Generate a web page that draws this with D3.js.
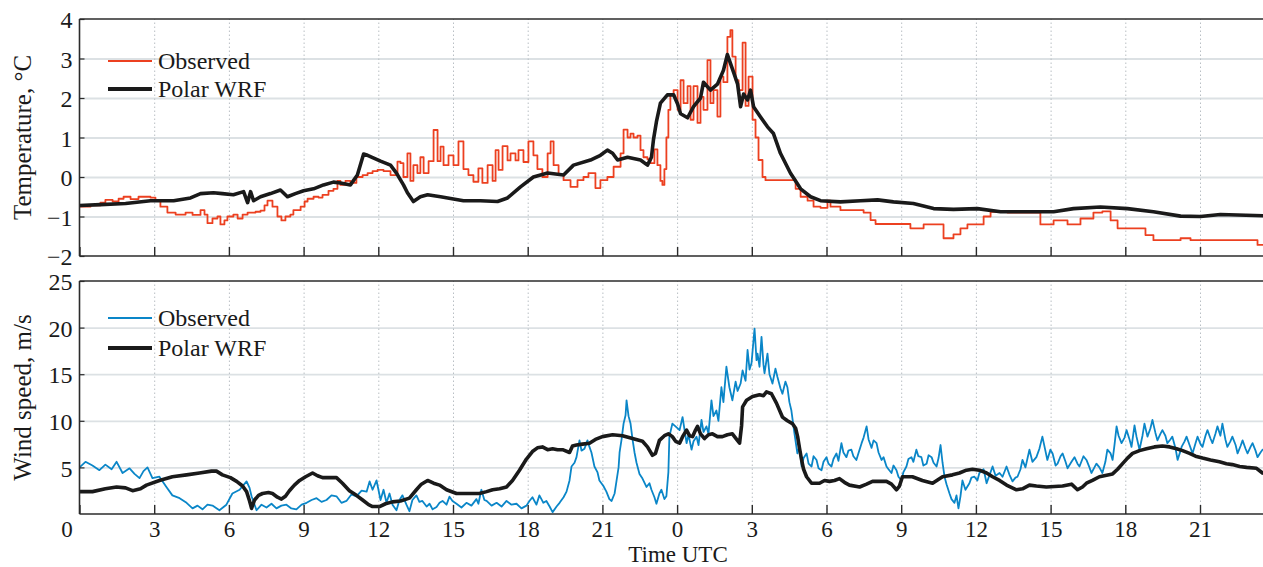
<!DOCTYPE html>
<html><head><meta charset="utf-8">
<script src="https://cdn.jsdelivr.net/npm/d3@7"></script>
<style>
body{margin:0;background:#fff}
svg text{font-family:"Liberation Serif","Times New Roman",Times,serif !important;}
</style>
</head><body><svg id="c" width="1263" height="567"></svg>
<script>
// ---------------- data ----------------
const xTickHours = d3.range(0, 48, 3);          // hours since start, labelled as UTC hour
const tempTicks = [-2, -1, 0, 1, 2, 3, 4];
const windTicks = [5, 10, 15, 20, 25];
const seriesNames = ["Observed", "Polar WRF"];

// [hour, °C]
const tempObserved = [
[0,-0.75],[0.44,-0.72],[0.84,-0.65],[1.04,-0.58],[1.33,-0.62],[1.57,-0.55],[1.77,-0.5],[2.05,-0.56],[2.37,-0.5],[2.85,-0.52],
[3.05,-0.6],[3.25,-0.75],[3.53,-0.9],[3.86,-0.95],[4.26,-0.9],[4.54,-0.96],[4.86,-0.84],[5.02,-0.95],[5.14,-1.17],[5.34,-1.05],
[5.54,-1.0],[5.66,-1.2],[5.82,-1.1],[5.94,-1.0],[6.18,-0.95],[6.35,-1.05],[6.55,-0.95],[6.75,-0.9],[7.07,-0.88],[7.27,-0.85],
[7.43,-0.72],[7.55,-0.6],[7.75,-0.75],[7.95,-1.0],[8.11,-1.1],[8.27,-1.0],[8.47,-0.95],[8.59,-0.84],[8.88,-0.75],[9.04,-0.62],
[9.16,-0.55],[9.4,-0.5],[9.6,-0.52],[9.76,-0.45],[10.0,-0.35],[10.2,-0.3],[10.36,-0.1],[10.48,-0.2],[10.68,-0.1],[10.88,-0.15],
[11.12,0.0],[11.37,0.05],[11.57,0.1],[11.77,0.15],[11.97,0.18],[12.21,0.15],[12.49,0.05],[12.77,0.39],[12.89,0.35],[13.01,0.0],
[13.17,0.6],[13.29,-0.1],[13.41,0.3],[13.57,0.1],[13.69,0.5],[13.82,0.1],[14.02,0.4],[14.22,1.19],[14.38,0.4],[14.5,0.77],
[14.62,0.3],[14.82,0.55],[15.02,0.3],[15.22,0.9],[15.42,0.2],[15.62,0.05],[15.82,-0.12],[16.02,0.22],[16.18,-0.15],[16.39,0.3],
[16.59,-0.1],[16.71,0.68],[16.83,0.18],[16.99,0.78],[17.19,0.42],[17.31,0.6],[17.51,0.42],[17.63,0.68],[17.83,0.38],[18.03,0.9],
[18.23,0.55],[18.39,0.2],[18.59,0.0],[18.8,0.6],[18.92,0.9],[19.04,0.3],[19.24,0.05],[19.44,-0.08],[19.72,-0.25],[20.0,-0.08],
[20.24,0.0],[20.44,0.1],[20.72,-0.28],[20.92,-0.08],[21.2,0.0],[21.45,0.26],[21.73,0.6],[21.85,1.2],[22.01,1.0],[22.13,1.1],
[22.25,1.0],[22.41,1.05],[22.53,0.68],[22.65,0.5],[22.81,0.45],[22.93,0.35],[23.09,0.7],[23.21,0.3],[23.33,-0.1],[23.41,-0.2],
[23.49,0.2],[23.57,1.0],[23.65,1.7],[23.73,2.1],[23.86,2.2],[24.02,1.7],[24.14,2.45],[24.26,1.87],[24.42,2.3],[24.54,1.45],
[24.66,2.3],[24.82,1.37],[24.94,2.03],[25.06,1.7],[25.22,2.96],[25.34,1.87],[25.46,2.2],[25.62,1.53],[25.74,2.54],[25.86,2.4],
[26.02,3.55],[26.14,3.72],[26.22,3.05],[26.35,2.45],[26.47,2.2],[26.63,3.4],[26.75,1.8],[26.87,2.54],[27.03,1.45],[27.15,1.0],
[27.27,0.43],[27.43,0.0],[27.55,-0.08],[28.55,-0.08],[28.76,-0.3],[28.96,-0.5],[29.24,-0.6],[29.48,-0.75],[29.76,-0.78],[30.04,-0.6],
[30.16,-0.75],[30.56,-0.84],[31.49,-0.9],[31.77,-1.09],[31.97,-1.19],[33.25,-1.19],[33.37,-1.3],[33.9,-1.2],[34.58,-1.2],[34.7,-1.55],
[35.1,-1.45],[35.38,-1.3],[35.66,-1.2],[36.31,-1.0],[36.59,-0.88],[37.27,-0.9],[38.31,-0.9],[38.59,-1.2],[39.12,-1.1],[39.68,-1.2],
[40.2,-1.05],[40.72,-0.9],[41.08,-0.87],[41.41,-1.1],[41.69,-1.3],[42.61,-1.3],[42.81,-1.47],[43.13,-1.6],[44.22,-1.55],[44.62,-1.6],
[45.82,-1.6],[47.31,-1.72],[48,-1.72]
];
const tempWRF = [
[0,-0.72],[0.84,-0.7],[1.85,-0.67],[2.85,-0.6],[3.78,-0.6],[4.46,-0.53],[4.86,-0.42],[5.38,-0.4],[5.74,-0.42],[6.18,-0.45],
[6.59,-0.37],[6.75,-0.65],[6.87,-0.37],[6.99,-0.6],[7.27,-0.5],[7.67,-0.42],[8.07,-0.33],[8.35,-0.5],[8.67,-0.42],[9.0,-0.35],
[9.4,-0.3],[9.8,-0.2],[10.2,-0.13],[10.48,-0.15],[10.88,-0.2],[11.16,0.05],[11.41,0.58],[11.57,0.55],[12.09,0.4],[12.49,0.3],
[12.73,0.1],[13.01,-0.2],[13.17,-0.4],[13.41,-0.62],[13.69,-0.5],[13.98,-0.45],[14.5,-0.5],[15.42,-0.6],[16.1,-0.6],[16.79,-0.62],
[17.19,-0.53],[17.71,-0.25],[18.23,0.0],[18.8,0.1],[19.44,0.05],[19.84,0.3],[20.52,0.43],[20.92,0.55],[21.2,0.68],[21.41,0.6],
[21.61,0.43],[22.01,0.5],[22.53,0.43],[22.81,0.3],[22.97,0.5],[23.05,0.94],[23.17,1.4],[23.33,1.87],[23.61,2.08],[23.86,2.08],
[24.02,1.85],[24.14,1.6],[24.42,1.5],[24.66,1.78],[24.94,2.0],[25.06,2.4],[25.34,2.2],[25.62,2.35],[25.86,2.7],[26.02,3.1],
[26.27,2.65],[26.43,2.35],[26.55,1.78],[26.67,2.1],[26.83,1.95],[26.95,2.2],[27.07,1.78],[27.35,1.52],[27.63,1.27],[27.87,1.1],
[28.15,0.6],[28.55,0.1],[28.96,-0.3],[29.36,-0.5],[29.76,-0.6],[30.56,-0.63],[31.37,-0.6],[32.05,-0.58],[32.69,-0.63],[33.49,-0.67],
[34.3,-0.8],[35.1,-0.82],[36.06,-0.8],[36.99,-0.88],[38.31,-0.88],[39.12,-0.88],[39.92,-0.8],[41.0,-0.76],[42.09,-0.8],[43.13,-0.88],
[44.22,-0.99],[45.02,-1.0],[45.82,-0.95],[47.55,-0.98],[48,-0.98]
];

// [hour, m/s]
const windObserved = [
[0,5.0],[0.24,5.6],[0.52,5.2],[0.8,4.7],[1.04,5.3],[1.29,4.8],[1.49,5.6],[1.73,4.4],[2.01,4.9],[2.21,4.3],
[2.41,3.85],[2.57,4.6],[2.73,5.0],[2.93,3.85],[3.21,4.0],[3.49,2.9],[3.73,2.0],[4.02,1.7],[4.3,1.2],[4.54,0.6],
[4.74,0.9],[4.94,0.5],[5.14,1.0],[5.34,0.9],[5.62,0.4],[5.9,1.0],[6.14,2.2],[6.43,2.6],[6.71,3.5],[6.83,2.8],
[6.91,1.9],[7.11,0.4],[7.31,1.0],[7.51,0.7],[7.71,1.1],[7.91,0.6],[8.11,0.9],[8.31,1.0],[8.51,0.6],[8.71,0.5],
[8.92,1.0],[9.12,1.2],[9.32,1.5],[9.52,1.7],[9.72,1.3],[9.92,1.5],[10.12,2.0],[10.32,1.9],[10.52,1.2],[10.72,1.4],
[10.92,2.1],[11.12,1.9],[11.33,2.5],[11.53,2.4],[11.65,3.5],[11.77,2.6],[11.93,3.6],[12.09,1.5],[12.21,2.6],[12.33,1.2],
[12.45,2.2],[12.57,1.0],[12.73,0.4],[12.85,1.5],[12.97,2.0],[13.13,1.0],[13.25,0.3],[13.37,1.5],[13.53,2.0],[13.65,1.3],
[13.77,1.4],[13.94,0.8],[14.06,1.1],[14.18,0.5],[14.34,0.75],[14.46,1.2],[14.58,1.4],[14.74,1.0],[14.86,1.86],[14.98,1.4],
[15.14,1.1],[15.34,0.7],[15.54,1.2],[15.74,0.9],[15.94,1.6],[16.02,1.1],[16.14,2.6],[16.26,1.5],[16.35,1.4],[16.55,0.9],
[16.75,1.2],[16.95,0.8],[17.15,1.4],[17.35,1.0],[17.55,1.1],[17.75,0.6],[17.95,0.9],[18.07,1.4],[18.19,1.8],[18.35,1.0],
[18.47,2.0],[18.63,1.2],[18.75,1.4],[18.88,0.8],[19.0,0.2],[19.16,0.8],[19.28,1.2],[19.44,1.8],[19.56,2.4],[19.68,3.6],
[19.76,5.1],[19.88,5.5],[19.96,6.1],[20.08,7.9],[20.16,6.8],[20.28,7.0],[20.4,7.9],[20.48,7.2],[20.56,6.6],[20.68,5.1],
[20.8,4.5],[20.88,3.6],[21.04,3.0],[21.16,2.4],[21.28,1.6],[21.37,1.4],[21.49,2.2],[21.57,3.6],[21.65,5.0],[21.69,6.6],
[21.77,8.0],[21.85,9.7],[21.93,10.6],[21.97,12.2],[22.05,10.5],[22.13,9.7],[22.21,8.0],[22.29,6.6],[22.37,5.5],[22.49,4.3],
[22.61,3.8],[22.77,2.9],[22.89,3.3],[22.97,2.6],[23.09,1.8],[23.17,1.1],[23.29,2.2],[23.37,2.6],[23.49,1.6],[23.57,1.9],
[23.65,4.5],[23.69,8.3],[23.81,9.7],[23.98,9.3],[24.1,9.0],[24.22,10.4],[24.38,7.6],[24.46,8.5],[24.58,6.9],[24.66,7.8],
[24.78,8.3],[24.86,7.4],[24.98,10.1],[25.06,8.8],[25.18,9.4],[25.26,8.6],[25.38,12.2],[25.46,10.5],[25.58,11.1],[25.66,10.0],
[25.78,13.6],[25.86,12.0],[25.98,15.8],[26.1,13.6],[26.22,12.2],[26.35,14.2],[26.43,13.2],[26.55,14.0],[26.63,15.4],[26.75,14.3],
[26.83,17.6],[26.91,15.5],[26.99,16.2],[27.11,19.9],[27.19,16.5],[27.23,17.2],[27.31,15.8],[27.39,19.0],[27.47,16.0],[27.51,15.1],
[27.63,17.2],[27.71,15.0],[27.83,14.0],[27.95,15.6],[28.03,14.7],[28.15,13.5],[28.23,12.9],[28.35,14.2],[28.43,13.6],[28.51,12.0],
[28.59,11.1],[28.71,8.7],[28.83,6.5],[28.92,7.3],[29.0,5.1],[29.08,6.0],[29.2,6.5],[29.28,5.4],[29.4,5.1],[29.48,6.2],
[29.6,5.8],[29.68,4.9],[29.8,4.7],[29.88,5.6],[30.0,6.1],[30.08,5.4],[30.2,5.1],[30.28,5.9],[30.4,6.5],[30.48,5.7],
[30.6,7.6],[30.68,6.6],[30.8,6.1],[30.88,6.8],[31.0,6.9],[31.08,6.2],[31.2,5.8],[31.28,6.5],[31.41,7.6],[31.49,8.2],
[31.61,9.4],[31.69,8.0],[31.81,7.1],[31.89,7.9],[32.01,7.6],[32.09,6.6],[32.21,5.8],[32.29,6.1],[32.41,5.1],[32.49,4.8],
[32.61,4.4],[32.69,5.2],[32.81,4.7],[32.89,4.0],[33.01,3.6],[33.09,4.5],[33.21,5.1],[33.29,5.9],[33.41,6.1],[33.49,5.6],
[33.61,6.9],[33.69,6.2],[33.81,6.1],[33.89,5.2],[34.02,5.4],[34.1,6.3],[34.22,6.1],[34.3,5.5],[34.42,5.1],[34.5,6.0],
[34.58,7.4],[34.66,5.5],[34.74,4.0],[34.82,3.2],[34.94,2.2],[35.02,1.6],[35.14,1.2],[35.22,2.0],[35.3,0.6],[35.38,1.9],
[35.46,3.6],[35.58,2.6],[35.74,3.3],[35.82,3.9],[35.94,4.0],[36.06,3.6],[36.14,4.4],[36.31,4.8],[36.43,3.3],[36.55,4.2],
[36.67,5.1],[36.79,4.1],[36.95,4.4],[37.07,4.0],[37.23,5.1],[37.35,4.2],[37.47,3.5],[37.59,3.9],[37.67,4.0],[37.79,4.8],
[37.87,5.8],[37.99,5.0],[38.15,6.9],[38.27,5.6],[38.43,6.1],[38.55,7.0],[38.67,8.3],[38.79,6.8],[38.87,5.8],[38.99,6.9],
[39.08,6.5],[39.2,5.2],[39.28,5.4],[39.4,6.2],[39.48,6.5],[39.6,5.6],[39.68,4.9],[39.84,5.6],[39.96,6.1],[40.08,5.4],
[40.16,5.1],[40.32,6.2],[40.44,5.8],[40.56,5.0],[40.64,4.4],[40.76,5.0],[40.84,5.4],[40.96,5.0],[41.08,4.4],[41.2,5.6],
[41.28,6.9],[41.41,6.5],[41.49,5.8],[41.57,7.5],[41.65,9.4],[41.73,8.4],[41.85,7.6],[41.97,8.2],[42.05,9.0],[42.17,8.0],
[42.25,7.2],[42.37,9.5],[42.45,8.3],[42.57,6.9],[42.69,8.4],[42.77,9.7],[42.89,8.3],[43.01,9.2],[43.09,10.1],[43.21,8.7],
[43.29,7.9],[43.41,8.6],[43.49,9.0],[43.61,8.4],[43.69,7.6],[43.81,8.0],[43.89,8.3],[44.02,7.0],[44.1,5.8],[44.22,6.8],
[44.26,7.2],[44.38,7.8],[44.46,8.3],[44.58,7.4],[44.7,6.5],[44.82,7.6],[44.9,8.3],[45.02,7.5],[45.1,7.2],[45.22,8.4],
[45.3,9.0],[45.42,8.1],[45.5,7.6],[45.62,8.6],[45.7,9.4],[45.82,8.4],[45.9,9.7],[46.02,8.0],[46.1,7.2],[46.22,7.8],
[46.3,8.3],[46.43,7.4],[46.51,6.5],[46.63,7.3],[46.71,7.9],[46.83,7.0],[46.91,6.5],[47.03,7.2],[47.11,7.6],[47.23,6.8],
[47.31,6.1],[47.43,6.6],[47.51,6.9],[48,6.9]
];
const windWRF = [
[0,2.4],[0.52,2.4],[1.04,2.7],[1.49,2.9],[1.85,2.8],[2.13,2.5],[2.45,2.7],[2.69,3.1],[3.21,3.6],[3.73,4.0],
[4.3,4.2],[4.82,4.4],[5.3,4.6],[5.5,4.6],[5.74,4.2],[6.06,3.9],[6.31,3.5],[6.55,3.0],[6.71,2.4],[6.83,1.4],
[6.91,0.6],[7.03,1.5],[7.19,2.0],[7.35,2.2],[7.59,2.3],[7.75,2.2],[7.95,1.8],[8.11,1.6],[8.27,1.9],[8.43,2.5],
[8.63,3.1],[8.84,3.6],[9.08,4.0],[9.36,4.4],[9.56,4.1],[9.76,3.9],[10.08,3.9],[10.32,3.9],[10.56,3.3],[10.84,2.5],
[11.12,2.0],[11.37,1.5],[11.61,1.0],[11.77,0.8],[12.05,0.8],[12.29,1.1],[12.57,1.3],[12.89,1.4],[13.25,1.7],[13.53,2.6],
[13.73,3.2],[13.98,3.6],[14.22,3.3],[14.46,3.1],[14.74,2.6],[15.14,2.2],[15.54,2.2],[16.06,2.2],[16.35,2.4],[16.59,2.6],
[16.87,2.7],[17.15,2.9],[17.39,3.6],[17.67,4.7],[17.95,5.9],[18.19,6.7],[18.39,7.1],[18.59,7.2],[18.8,6.9],[19.0,7.0],
[19.2,6.9],[19.4,6.9],[19.68,6.6],[19.8,7.3],[19.96,7.4],[20.2,7.5],[20.48,7.6],[20.72,8.0],[21.0,8.3],[21.41,8.5],
[21.81,8.4],[22.21,8.1],[22.61,7.8],[22.81,7.2],[23.01,6.3],[23.13,6.5],[23.29,7.9],[23.49,8.4],[23.65,8.6],[23.81,8.3],
[23.94,7.8],[24.1,7.6],[24.22,8.3],[24.38,9.0],[24.5,8.4],[24.62,8.3],[24.74,9.0],[24.82,9.4],[24.94,8.6],[25.1,8.1],
[25.26,8.5],[25.42,8.6],[25.62,8.3],[25.82,8.3],[26.02,8.5],[26.22,8.6],[26.39,8.0],[26.51,7.6],[26.59,9.5],[26.63,11.5],
[26.79,12.2],[27.03,12.6],[27.31,12.8],[27.47,12.7],[27.59,13.1],[27.79,12.9],[27.99,11.9],[28.23,10.4],[28.43,10.0],[28.63,9.7],
[28.76,9.2],[28.84,8.3],[28.92,7.0],[29.0,5.8],[29.08,4.8],[29.2,4.0],[29.4,3.3],[29.72,3.3],[29.92,3.6],[30.12,3.5],
[30.32,3.6],[30.52,3.8],[30.72,3.4],[30.92,3.1],[31.33,2.9],[31.61,3.2],[31.85,3.5],[32.41,3.5],[32.61,3.2],[32.81,2.6],
[32.93,3.0],[33.05,4.0],[33.45,4.0],[33.85,3.6],[34.26,3.3],[34.66,4.0],[35.06,4.2],[35.34,4.4],[35.62,4.7],[35.86,4.8],
[36.14,4.7],[36.43,4.4],[36.67,4.0],[36.95,3.6],[37.23,3.1],[37.63,2.6],[37.87,2.7],[38.15,3.1],[38.43,3.0],[38.83,2.9],
[39.48,3.0],[39.84,3.2],[40.08,2.6],[40.28,2.9],[40.44,3.3],[40.68,3.6],[40.96,4.0],[41.49,4.3],[41.69,4.8],[41.89,5.4],
[42.09,6.0],[42.29,6.5],[42.57,6.8],[42.85,7.0],[43.17,7.2],[43.49,7.3],[43.78,7.2],[44.06,7.0],[44.3,6.8],[44.58,6.5],
[44.82,6.2],[45.1,6.0],[45.42,5.8],[45.78,5.6],[46.06,5.4],[46.3,5.3],[46.59,5.1],[46.87,5.0],[47.27,4.9],[47.51,4.4],[48,4.2]
];

// ---------------- drawing ----------------
const W = 1263, H = 567;
const RED = "#ec4020", BLUE = "#0a86c8", BLACK = "#1a1a1a";
const svg = d3.select("#c");
svg.append("rect").attr("width", W).attr("height", H).attr("fill", "#fff");

const x0 = 79.5, pxPerHour = 24.9;
const x = d3.scaleLinear().domain([0, 48]).range([x0, x0 + 48 * pxPerHour]);
const xRight = x(48);
const fmtInt = d3.format("d");

const panels = [
  { y: d3.scaleLinear().domain([-2, 4]).range([256, 19]), ticks: tempTicks, title: "Temperature, °C",
    obs: tempObserved, wrf: tempWRF, obsColor: RED, obsCurve: d3.curveStepAfter, xLabels: false, legendY: [61, 89] },
  { y: d3.scaleLinear().domain([0, 25]).range([514, 281]), ticks: windTicks, title: "Wind speed, m/s",
    obs: windObserved, wrf: windWRF, obsColor: BLUE, obsCurve: d3.curveLinear, xLabels: true, legendY: [318, 348] }
];

panels.forEach((p, i) => {
  const [yb, yt] = p.y.range();
  const g = svg.append("g");
  const clipId = "clip" + i;
  svg.append("clipPath").attr("id", clipId).append("rect")
    .attr("x", x0).attr("y", yt).attr("width", xRight - x0).attr("height", yb - yt);

  // horizontal grid (solid light grey)
  const hGrid = p.y.ticks(6).filter(v => v > p.y.domain()[0] && v < p.y.domain()[1]);
  g.append("g").attr("transform", `translate(${x0},0)`)
    .call(d3.axisRight(p.y).tickValues(hGrid).tickSize(xRight - x0).tickFormat(""))
    .call(a => a.select(".domain").remove())
    .call(a => a.selectAll("line").attr("stroke", "#dce1e4").attr("stroke-width", 1.8));
  // vertical grid (dotted)
  g.append("g").attr("transform", `translate(0,${yb})`)
    .call(d3.axisTop(x).tickValues(xTickHours.filter(h => h > 0)).tickSize(yb - yt).tickFormat(""))
    .call(a => a.select(".domain").remove())
    .call(a => a.selectAll("line").attr("stroke", "#b9bfc4").attr("stroke-width", 1).attr("stroke-dasharray", "1.5,2.5"));

  // data lines
  const lineObs = d3.line().x(d => x(d[0])).y(d => p.y(d[1])).curve(p.obsCurve);
  const lineWRF = d3.line().x(d => x(d[0])).y(d => p.y(d[1])).curve(d3.curveLinear);
  const lg = g.append("g").attr("clip-path", `url(#${clipId})`);
  lg.append("path").datum(p.obs).attr("d", lineObs).attr("fill", "none")
    .attr("stroke", p.obsColor).attr("stroke-width", 1.8).attr("stroke-linejoin", "round");
  lg.append("path").datum(p.wrf).attr("d", lineWRF).attr("fill", "none")
    .attr("stroke", BLACK).attr("stroke-width", 3.6).attr("stroke-linejoin", "round").attr("stroke-linecap", "round");

  // frame
  const frame = g.append("g").attr("stroke", "#2b2b2b").attr("stroke-width", 1.6);
  frame.append("line").attr("x1", x0).attr("x2", W).attr("y1", yt).attr("y2", yt);
  frame.append("line").attr("x1", x0).attr("x2", W).attr("y1", yb).attr("y2", yb);
  frame.append("line").attr("x1", x0).attr("x2", x0).attr("y1", yt).attr("y2", yb);

  // y axis labels + inward ticks
  g.append("g").attr("transform", `translate(${x0},0)`)
    .call(d3.axisLeft(p.y).tickValues(p.ticks).tickFormat(fmtInt).tickSizeInner(-5).tickSizeOuter(0).tickPadding(7))
    .call(a => a.select(".domain").remove())
    .call(a => a.selectAll("line").attr("stroke", "#2b2b2b").attr("stroke-width", 1.2))
    .call(a => a.selectAll("text").attr("font-size", 24).attr("fill", "#1a1a1a").attr("dy", "0.36em"));

  // x axis ticks (inward) + labels
  const xa = g.append("g").attr("transform", `translate(0,${yb})`)
    .call(d3.axisBottom(x).tickValues(xTickHours).tickSizeInner(-9).tickSizeOuter(0).tickPadding(7)
      .tickFormat(h => p.xLabels ? String(h % 24) : ""))
    .call(a => a.select(".domain").remove())
    .call(a => a.selectAll("line").attr("stroke", "#2b2b2b").attr("stroke-width", 1.4))
    .call(a => a.selectAll("text").attr("font-size", 23).attr("fill", "#1a1a1a").attr("dy", "0.68em"));
  if (p.xLabels) xa.selectAll(".tick text").filter(h => h === 0).attr("dx", -13);

  // y title
  svg.append("text").attr("transform", `translate(31,${(yt + yb) / 2}) rotate(-90)`)
    .attr("text-anchor", "middle").attr("font-size", 25).attr("fill", "#1a1a1a").text(p.title);

  // legend
  const leg = svg.append("g");
  seriesNames.forEach((name, k) => {
    const ly = p.legendY[k];
    leg.append("line").attr("x1", 108).attr("x2", 152).attr("y1", ly).attr("y2", ly)
      .attr("stroke", k === 0 ? p.obsColor : BLACK).attr("stroke-width", k === 0 ? 2.2 : 4);
    leg.append("text").attr("x", 158).attr("y", ly).attr("dy", "0.33em").attr("font-size", 24)
      .attr("fill", "#1a1a1a").text(name);
  });
});

// x title
svg.append("text").attr("x", 678).attr("y", 562).attr("text-anchor", "middle")
  .attr("font-size", 23).attr("fill", "#1a1a1a").text("Time UTC");
</script>
</body></html>
